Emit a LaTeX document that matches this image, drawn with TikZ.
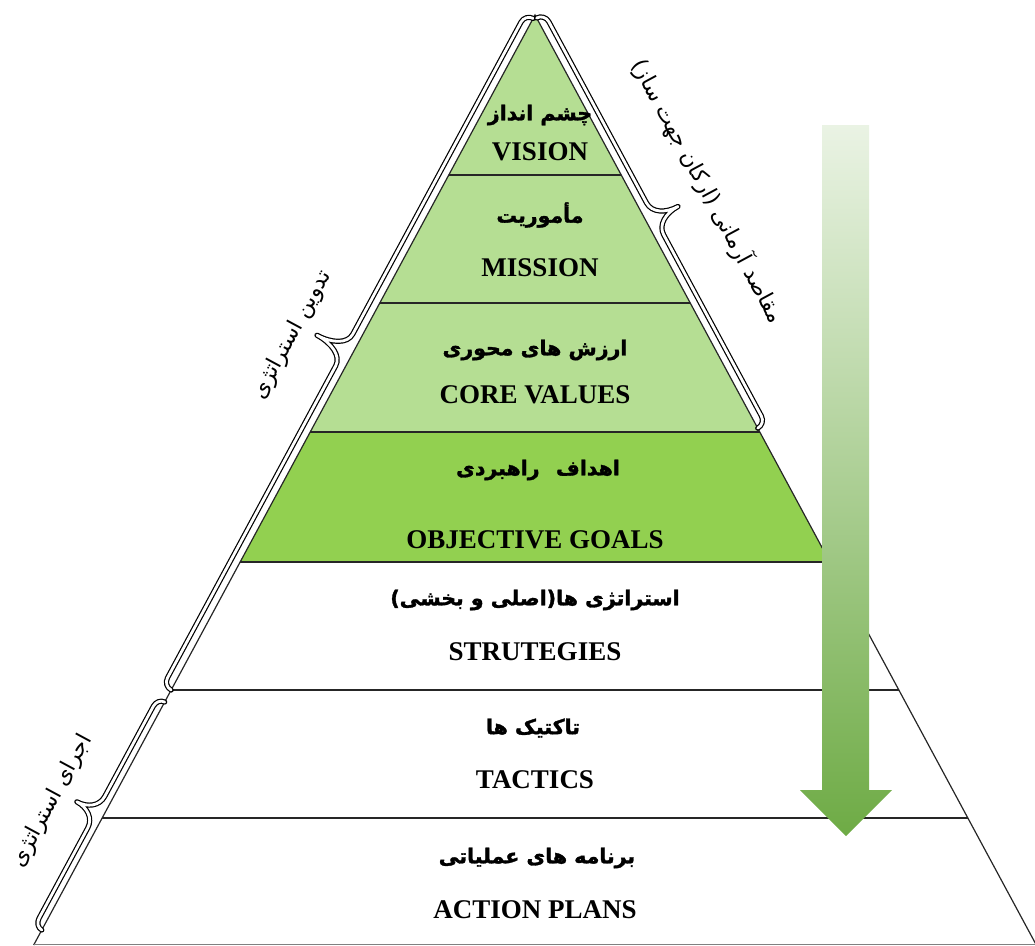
\documentclass[tikz,border=0pt]{standalone}
\usepackage{fontspec}
\setmainfont{Liberation Serif}
\newfontfamily\fafont[Script=Arabic, BoldFeatures={FakeBold=1.6}]{DejaVu Sans}
\TeXXeTstate=1
\usetikzlibrary{calc}

\definecolor{paleleaf}{HTML}{B5DE93}
\definecolor{brightleaf}{HTML}{92D050}
\definecolor{arrowtop}{HTML}{EAF3E4}
\definecolor{arrowbot}{HTML}{6EAB45}
\definecolor{edgegray}{HTML}{262626}

\tikzset{
  pics/sidebrace/.style n args={3}{code={
    % #1 length along the edge, #2 offset of the straight part, #3 offset of the tip
    \draw[bracestroke]
      (0,0) .. controls (0,{0.55*#2}) and (4,#2) .. (9,#2)
      -- ({#1/2-18},#2) .. controls ({#1/2-7},#2) and ({#1/2},{#2+0.45*(#3-#2)}) .. ({#1/2},#3)
      .. controls ({#1/2},{#2+0.45*(#3-#2)}) and ({#1/2+7},#2) .. ({#1/2+18},#2)
      -- ({#1-9},#2) .. controls ({#1-4},#2) and (#1,{0.55*#2}) .. (#1,0);
  }}
}

\begin{document}
\begin{tikzpicture}[x=1pt,y=1pt,
  en/.style={font=\bfseries\fontsize{27}{30}\selectfont, inner sep=0pt},
  fa/.style={font=\fafont\bfseries\fontsize{20.5}{24}\selectfont, inner sep=0pt},
  side/.style={font=\fafont\fontsize{22}{26}\selectfont, inner sep=0pt},
  band/.style={draw=edgegray, line width=1.2pt},
  bracestroke/.style={draw=black, line width=1.2pt, double=white, double distance=2.8pt, line cap=round, line join=round}]

\useasboundingbox (0,0) rectangle (1035,-945);

% pyramid corners
\coordinate (A)  at (535,-15);
\coordinate (BL) at (33.7,-945);
\coordinate (BR) at (1036.3,-945);

% band boundaries on both edges
\foreach \t [count=\i] in {0.17204,0.30968,0.44839,0.58817,0.72581,0.86344}{
  \coordinate (L\i) at ($(A)!\t!(BL)$);
  \coordinate (R\i) at ($(A)!\t!(BR)$);
}

% coloured bands
\fill[paleleaf] (A) -- (R3) -- (L3) -- cycle;
\fill[brightleaf] (L3) -- (R3) -- (R4) -- (L4) -- cycle;

% band separators and outline
\foreach \i in {1,...,6}{ \draw[band] (L\i) -- (R\i); }
\draw[band] (BL) -- (A) -- (BR);
\draw[draw=gray, line width=1pt] (33.7,-944) -- (1035,-944);

% level labels
\node[fa] (visfa) at (540,-115) {\beginR چشم انداز\endR};
\node[en] (visen) at (540,-152) {VISION};
\node[fa] (misfa) at (540,-215) {\beginR مأموریت\endR};
\node[en] (misen) at (540,-268) {MISSION};
\node[fa] (corfa) at (535,-350) {\beginR ارزش های محوری\endR};
\node[en] (coren) at (535,-395) {CORE VALUES};
\node[fa] (objfa) at (538,-470) {\beginR اهداف\hspace{0.45em} راهبردی\endR};
\node[en] (objen) at (535,-540) {OBJECTIVE GOALS};
\node[fa] (strfa) at (535,-600) {\beginR استراتژی ها(اصلی و بخشی)\endR};
\node[en] (stren) at (535,-652) {STRUTEGIES};
\node[fa] (tacfa) at (533,-728) {\beginR تاکتیک ها\endR};
\node[en] (tacen) at (535,-780) {TACTICS};
\node[fa] (actfa) at (537,-858) {\beginR برنامه های عملیاتی\endR};
\node[en] (acten) at (535,-910) {ACTION PLANS};

% braces along the sides
\pic[rotate=61.67] at (L5) {sidebrace={763}{9}{40}};
\pic[rotate=61.67] at (41.8,-930) {sidebrace={259}{8}{30}};
\pic[rotate=-61.67] at (536.6,-18) {sidebrace={466}{9}{35}};

% side labels
\node[side, rotate=61.67] (plan) at (292,-335) {\beginR تدوین استراتژی\endR};
\node[side, rotate=-61.67] (aims) at (708,-191) {\beginR مقاصد آرمانی (ارکان جهت ساز)\endR};
\node[side, rotate=61.67] (exec) at (52,-801) {\beginR اجرای استراتژی\endR};

% downward arrow
\shade[top color=arrowtop, bottom color=arrowbot]
  (822,-125) -- (869,-125) -- (869,-790) -- (892,-790) -- (846,-836)
  -- (800,-790) -- (822,-790) -- cycle;
\end{tikzpicture}
\end{document}
